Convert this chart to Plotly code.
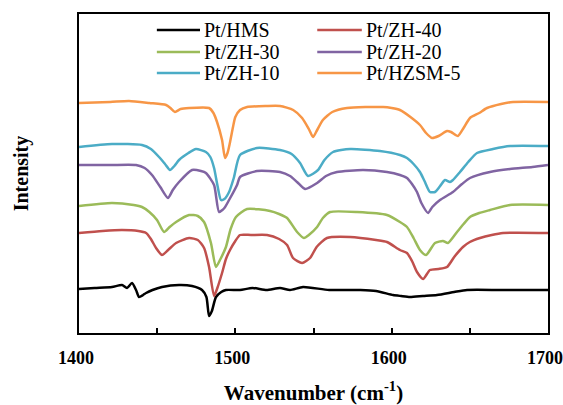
import plotly.graph_objects as go

# ---- data (wavenumber in cm-1, intensity in a.u., offset stacked) ----
HMS_X = [1400, 1410, 1421.1, 1427.5, 1430.7, 1433.9, 1436.5, 1438.4, 1441, 1442.9, 1447, 1453.1,
         1464, 1472.3, 1478.7, 1481.5, 1483.2, 1485, 1487.6, 1491, 1494, 1503, 1511, 1520,
         1528.6, 1535, 1543.3, 1560, 1580, 1590, 1600.9, 1606, 1611.7, 1620, 1629, 1640,
         1648.2, 1670, 1700]
HMS_Y = [0.44, 0.45, 0.46, 0.48, 0.45, 0.50, 0.43, 0.36, 0.38, 0.40, 0.43, 0.46,
         0.48, 0.47, 0.43, 0.36, 0.17, 0.22, 0.36, 0.41, 0.43, 0.43, 0.45, 0.43,
         0.45, 0.43, 0.46, 0.43, 0.43, 0.42, 0.38, 0.37, 0.36, 0.37, 0.38, 0.41,
         0.43, 0.43, 0.43]

ZH40_X = [1400, 1415, 1427.5, 1438, 1442.9, 1446, 1449.3, 1453.1, 1457, 1462.1, 1470.4, 1476,
          1480, 1483.2, 1486.4, 1488.5, 1491.5, 1494, 1496.6, 1500, 1503, 1510, 1520.3, 1528,
          1533.1, 1536.9, 1542.7, 1547.8, 1552, 1558.6, 1573.4, 1590, 1597, 1605.3, 1609.8,
          1613, 1616.2, 1620.1, 1624.5, 1630, 1635.4, 1640, 1645.6, 1650, 1656.5, 1664,
          1671.2, 1700]
ZH40_Y = [1.00, 1.02, 1.03, 1.02, 1.00, 0.94, 0.85, 0.78, 0.83, 0.90, 0.95, 0.93,
          0.85, 0.66, 0.37, 0.45, 0.60, 0.74, 0.83, 0.92, 0.98, 0.98, 0.98, 0.94,
          0.88, 0.75, 0.70, 0.75, 0.86, 0.95, 0.96, 0.93, 0.91, 0.83, 0.80,
          0.72, 0.61, 0.54, 0.63, 0.64, 0.66, 0.76, 0.86, 0.91, 0.95, 0.98,
          1.00, 1.00]

ZH30_X = [1400, 1421.1, 1435, 1440.3, 1445, 1449.9, 1454.4, 1458, 1462.1, 1470.4, 1476, 1480,
          1484.4, 1487.6, 1490.5, 1494, 1497, 1500.4, 1507.5, 1522.2, 1528, 1533.1, 1539.5,
          1543.9, 1547, 1552.3, 1556, 1560.6, 1577.8, 1597, 1605.3, 1609.8, 1614, 1618.1,
          1622, 1627.7, 1632.8, 1636, 1641.8, 1646, 1650.1, 1656, 1662.9, 1675.7, 1700]
ZH30_Y = [1.27, 1.30, 1.28, 1.26, 1.21, 1.13, 1.01, 1.06, 1.11, 1.18, 1.17, 1.11,
          0.90, 0.66, 0.74, 0.86, 1.04, 1.16, 1.24, 1.22, 1.19, 1.15, 1.01,
          0.95, 0.98, 1.06, 1.15, 1.21, 1.21, 1.18, 1.11, 1.06, 0.95, 0.83,
          0.78, 0.90, 0.92, 0.90, 1.01, 1.09, 1.16, 1.20, 1.23, 1.28, 1.28]

ZH20_X = [1400, 1420, 1436.5, 1442, 1446.7, 1452, 1456.9, 1460, 1464, 1472.3, 1478, 1481.2,
          1486.4, 1489.6, 1493, 1496, 1501.1, 1503, 1513.9, 1528.6, 1535, 1539.5, 1544.6,
          1552.3, 1558, 1565, 1581.7, 1597, 1605.3, 1609.8, 1613, 1616.2, 1619, 1623.3,
          1626, 1630.9, 1639.2, 1645, 1650.1, 1662.9, 1675.7, 1690, 1700]
ZH20_Y = [1.68, 1.68, 1.68, 1.65, 1.58, 1.46, 1.35, 1.43, 1.51, 1.63, 1.62, 1.60,
          1.48, 1.21, 1.25, 1.33, 1.48, 1.56, 1.62, 1.61, 1.57, 1.51, 1.44,
          1.50, 1.57, 1.61, 1.63, 1.61, 1.58, 1.55, 1.49, 1.41, 1.30, 1.20,
          1.26, 1.33, 1.41, 1.49, 1.55, 1.61, 1.64, 1.66, 1.68]

ZH10_X = [1400, 1421.1, 1440.3, 1446, 1451.2, 1455, 1458.2, 1461, 1464, 1470, 1474.8, 1481.2,
          1484, 1486.4, 1488.5, 1490.8, 1493, 1496, 1499, 1503, 1513.9, 1528.6, 1536,
          1541.4, 1546.5, 1552.9, 1557, 1562.5, 1573.4, 1592.5, 1605.3, 1609.8, 1614,
          1618.1, 1621, 1624.5, 1627.7, 1631, 1634.1, 1637.3, 1639.2, 1643.7, 1649,
          1654.6, 1664.8, 1675.7, 1700]
ZH10_Y = [1.86, 1.89, 1.88, 1.84, 1.76, 1.69, 1.63, 1.67, 1.73, 1.80, 1.84, 1.81,
          1.76, 1.65, 1.48, 1.33, 1.34, 1.41, 1.55, 1.78, 1.85, 1.83, 1.79,
          1.70, 1.57, 1.63, 1.73, 1.81, 1.84, 1.82, 1.78, 1.75, 1.69,
          1.61, 1.52, 1.41, 1.41, 1.47, 1.53, 1.51, 1.53, 1.61, 1.71,
          1.80, 1.84, 1.87, 1.87]

HZSM5_X = [1400, 1420, 1432, 1445, 1455.7, 1458.5, 1461.4, 1465, 1470.4, 1483.2, 1486, 1488.3,
           1491.5, 1493.4, 1495, 1496.5, 1498.5, 1500, 1503, 1507.5, 1520, 1528.6, 1537,
           1542.7, 1547, 1549.7, 1552, 1556, 1562, 1571.4, 1594.5, 1600, 1605.3, 1612,
           1618.1, 1622, 1625.8, 1630, 1635.4, 1638, 1642.4, 1646, 1650.1, 1656, 1661,
           1670, 1677.6, 1700]
HZSM5_Y = [2.30, 2.31, 2.32, 2.30, 2.28, 2.25, 2.21, 2.24, 2.25, 2.25, 2.20, 2.11,
           1.93, 1.75, 1.80, 1.90, 2.06, 2.16, 2.23, 2.26, 2.27, 2.27, 2.23,
           2.15, 2.04, 1.96, 2.02, 2.13, 2.21, 2.25, 2.26, 2.25, 2.23, 2.16,
           2.08, 2.00, 1.95, 1.97, 2.02, 2.01, 1.97, 2.05, 2.15, 2.20, 2.25,
           2.29, 2.31, 2.31]

SERIES_NAMES = ["Pt/HMS", "Pt/ZH-40", "Pt/ZH-30", "Pt/ZH-20", "Pt/ZH-10", "Pt/HZSM-5"]
SERIES_X = [HMS_X, ZH40_X, ZH30_X, ZH20_X, ZH10_X, HZSM5_X]
SERIES_Y = [HMS_Y, ZH40_Y, ZH30_Y, ZH20_Y, ZH10_Y, HZSM5_Y]
COLORS = ["#000000", "#C0504D", "#9BBB59", "#8064A2", "#4BACC6", "#F79646"]

TICK_VALUES = [1400, 1450, 1500, 1550, 1600, 1650, 1700]
TICK_LABELS = ["1400", "", "1500", "", "1600", "", "1700"]

FONT = "Liberation Serif, Times New Roman, serif"

fig = go.Figure()
for name, xs, ys, c in zip(SERIES_NAMES, SERIES_X, SERIES_Y, COLORS):
    fig.add_trace(go.Scatter(x=xs, y=ys, mode="lines", name=name,
                             line=dict(color=c, width=2.5, shape="spline", smoothing=0.6),
                             showlegend=False))

# manual two-column legend (column-major like the original)
legend_rows = [0.950, 0.881, 0.815]
col_line = [(0.166, 0.258), (0.508, 0.603)]
for i, (name, c) in enumerate(zip(SERIES_NAMES, COLORS)):
    col = i % 2
    row = i // 2
    x0, x1 = col_line[col]
    yy = legend_rows[row]
    fig.add_shape(type="line", xref="paper", yref="paper", x0=x0, x1=x1, y0=yy, y1=yy,
                  line=dict(color=c, width=2.5))
    fig.add_annotation(xref="paper", yref="paper", x=x1 + 0.004, y=yy, text=name,
                       showarrow=False, xanchor="left", yanchor="middle",
                       font=dict(family=FONT, size=20, color="black"))

fig.update_layout(
    width=563, height=405,
    margin=dict(l=79, r=15, t=14, b=72, autoexpand=False),
    paper_bgcolor="white", plot_bgcolor="white",
    font=dict(family=FONT, color="black"),
)
fig.update_xaxes(
    range=[1400, 1700], tickvals=TICK_VALUES, ticktext=TICK_LABELS,
    ticks="inside", ticklen=5, tickwidth=1.5, tickcolor="black",
    showline=True, linecolor="black", linewidth=2, mirror=True,
    showgrid=False, zeroline=False, automargin=False,
    tickfont=dict(family=FONT, size=18, weight="bold", color="black"),
    ticklabelstandoff=7, ticklabeloverflow="allow", ticklabelshift=-3,
    title=dict(text="Wavenumber (cm<sup>-1</sup>)", standoff=34,
               font=dict(family=FONT, size=21, weight="bold", color="black")),
)
fig.update_yaxes(
    range=[0, 3.19], showticklabels=False, ticks="",
    showline=True, linecolor="black", linewidth=2, mirror=True,
    showgrid=False, zeroline=False, automargin=False,
    title=dict(text="Intensity", standoff=43,
               font=dict(family=FONT, size=20, weight="bold", color="black")),
)

fig.write_html("out.html")
